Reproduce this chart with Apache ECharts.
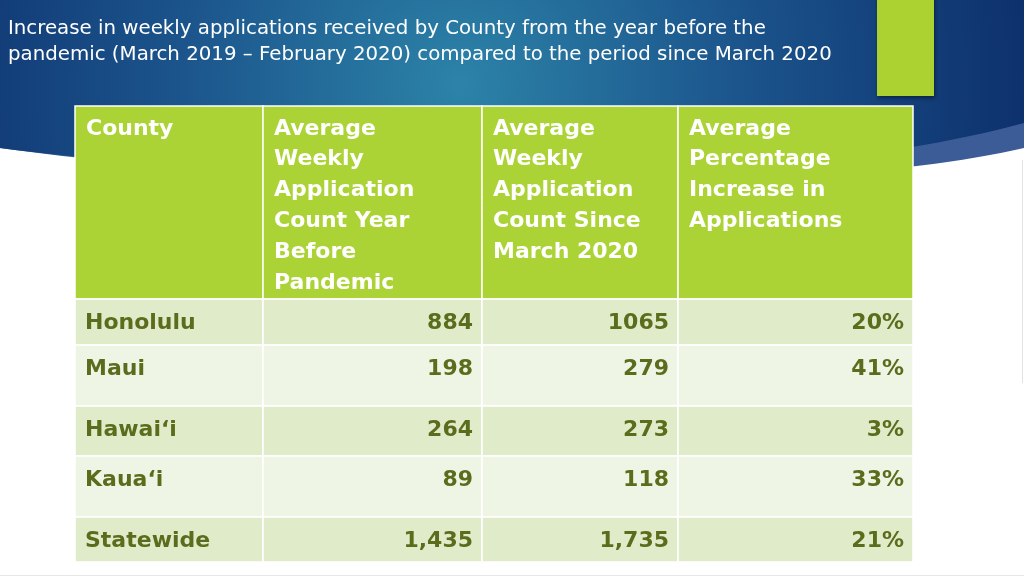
<!DOCTYPE html>
<html>
<head>
<meta charset="utf-8">
<script src="https://cdn.jsdelivr.net/npm/echarts@6/dist/echarts.min.js"></script>
<style>
html,body{margin:0;padding:0;background:#ffffff;}
#chart{width:1024px;height:576px;}
</style>
</head>
<body>
<div id="chart"></div>
<script>
// ---- data ----
const titleLines = [
  'Increase in weekly applications received by County from the year before the',
  'pandemic (March 2019 \u2013 February 2020) compared to the period since March 2020'
];
const headers = [
  'County',
  'Average\nWeekly\nApplication\nCount Year\nBefore\nPandemic',
  'Average\nWeekly\nApplication\nCount Since\nMarch 2020',
  'Average\nPercentage\nIncrease in\nApplications'
];
const counties = ['Honolulu', 'Maui', 'Hawai\u2018i', 'Kaua\u2018i', 'Statewide'];
const beforePandemic = ['884', '198', '264', '89', '1,435'];
const sinceMarch2020 = ['1065', '279', '273', '118', '1,735'];
const pctIncrease = [20, 41, 3, 33, 21];

// ---- layout (not data) ----
const colWidths = [188, 219, 196, 235];
const rowHeights = [193, 46, 61, 50, 61, 45];
const colEdges = [0];
colWidths.forEach(w => colEdges.push(colEdges[colEdges.length - 1] + w));
const rowEdges = [0];
rowHeights.forEach(h => rowEdges.push(rowEdges[rowEdges.length - 1] + h));
const tableW = colEdges[colEdges.length - 1];
const tableH = rowEdges[rowEdges.length - 1];

// ---- build cells ----
const cells = [];
headers.forEach((h, c) => cells.push({ c: c, r: 0, text: h }));
counties.forEach((name, i) => {
  const row = [name, beforePandemic[i], sinceMarch2020[i], pctIncrease[i] + '%'];
  row.forEach((t, c) => cells.push({ c: c, r: i + 1, text: t }));
});

const FONT = '"DejaVu Sans", "Noto Sans", sans-serif';

function renderCell(params, api) {
  const cell = cells[params.dataIndex];
  const p0 = api.coord([colEdges[cell.c], rowEdges[cell.r]]);
  const p1 = api.coord([colEdges[cell.c + 1], rowEdges[cell.r + 1]]);
  const x0 = p0[0], y0 = p0[1], x1 = p1[0], y1 = p1[1];
  let fill;
  if (cell.r === 0) fill = '#acd335';
  else fill = (cell.r % 2 === 1) ? '#e0ecc9' : '#eef5e5';
  const children = [{
    type: 'rect',
    shape: { x: x0, y: y0, width: x1 - x0, height: y1 - y0 },
    style: { fill: fill, stroke: '#ffffff', lineWidth: 1.5 }
  }];
  if (cell.r === 0) {
    children.push({
      type: 'text',
      style: {
        text: cell.text, x: x0 + 11, y: y0 + 7.5,
        align: 'left', verticalAlign: 'top',
        fill: '#ffffff', fontSize: 22, fontWeight: 'bold', fontFamily: FONT,
        lineHeight: 30.8
      }
    });
  } else {
    const left = cell.c === 0;
    children.push({
      type: 'text',
      style: {
        text: cell.text, x: left ? x0 + 10 : x1 - 9, y: y0 + 24.5,
        align: left ? 'left' : 'right', verticalAlign: 'middle',
        fill: '#5b6d1c', fontSize: 22, fontWeight: 'bold', fontFamily: FONT
      }
    });
  }
  return { type: 'group', children: children };
}

// decorative background swoosh: polygon sampled from a cubic curve
function swoosh(p0, c1, c2, p3) {
  const pts = [[0, 0], [1024, 0]];
  for (let i = 0; i <= 60; i++) {
    const t = i / 60, u = 1 - t;
    pts.push([
      u*u*u*p0[0] + 3*u*u*t*c1[0] + 3*u*t*t*c2[0] + t*t*t*p3[0],
      u*u*u*p0[1] + 3*u*u*t*c1[1] + 3*u*t*t*c2[1] + t*t*t*p3[1]
    ]);
  }
  return pts;
}

const chart = echarts.init(document.getElementById('chart'), null, { renderer: 'canvas' });
chart.setOption({
  animation: false,
  backgroundColor: '#ffffff',
  title: {
    text: titleLines.join('\n'),
    left: 8, top: 16, padding: 0,
    textStyle: { color: '#ffffff', fontSize: 19.8, fontWeight: 'normal', fontFamily: '"DejaVu Sans", sans-serif', lineHeight: 26 }
  },
  graphic: [
    { type: 'polygon', z: -20, shape: { points: swoosh([1024, 148], [800, 200], [300, 190], [0, 148]) },
      style: { fill: '#3b5c97' } },
    { type: 'polygon', z: -19, shape: { points: swoosh([1024, 123], [760, 195], [300, 186], [0, 148]) },
      style: { fill: { type: 'radial', x: 460, y: 85, r: 640, global: true,
        colorStops: [ { offset: 0, color: '#2c83a8' }, { offset: 0.45, color: '#1b538b' }, { offset: 1, color: '#0a2865' } ] } } },
    { type: 'rect', z: -18, shape: { x: 877, y: -4, width: 57, height: 100 },
      style: { fill: '#acd232', shadowBlur: 4, shadowColor: 'rgba(0,0,0,0.45)', shadowOffsetX: 1, shadowOffsetY: 2 } },
    { type: 'line', z: -18, shape: { x1: 1022.5, y1: 160, x2: 1022.5, y2: 383 }, style: { stroke: '#e2e2e2', lineWidth: 1 } },
    { type: 'line', z: -18, shape: { x1: 0, y1: 575.5, x2: 1024, y2: 575.5 }, style: { stroke: '#e6e6e6', lineWidth: 1 } }
  ],
  grid: { left: 75, top: 106, width: tableW, height: tableH },
  xAxis: { type: 'value', min: 0, max: tableW, show: false },
  yAxis: { type: 'value', min: 0, max: tableH, inverse: true, show: false },
  series: [{
    type: 'custom',
    clip: false,
    renderItem: renderCell,
    data: cells.map(cell => [cell.c, cell.r])
  }]
});
</script>
</body>
</html>
